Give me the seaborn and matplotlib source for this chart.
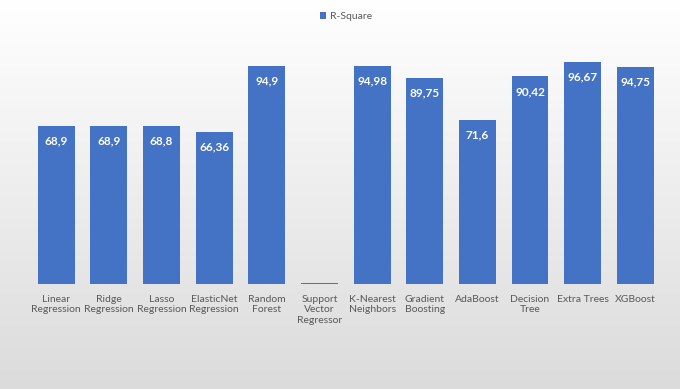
import numpy as np
import pandas as pd
import matplotlib
matplotlib.use("Agg")
import matplotlib.pyplot as plt
import seaborn as sns

models = ["Linear\nRegression", "Ridge\nRegression", "Lasso\nRegression", "ElasticNet\nRegression",
          "Random\nForest", "Support\nVector\nRegressor", "K-Nearest\nNeighbors", "Gradient\nBoosting",
          "AdaBoost", "Decision\nTree", "Extra Trees", "XGBoost"]
r_square = [68.9, 68.9, 68.8, 66.36, 94.9, 0.3, 94.98, 89.75, 71.6, 90.42, 96.67, 94.75]
labels = ["68,9", "68,9", "68,8", "66,36", "94,9", "", "94,98", "89,75", "71,6", "90,42", "96,67", "94,75"]

df = pd.DataFrame({"model": models, "r2": r_square})

sns.set_style("white")
plt.rcParams['font.family'] = ['Lato', 'DejaVu Sans']

fig = plt.figure(figsize=(6.8, 3.89), dpi=100)

# background gradient (white at top, light grey at bottom)
bg = fig.add_axes([0, 0, 1, 1], zorder=0)
grad = np.linspace(1.0, 0.86, 256).reshape(-1, 1)
bg.imshow(np.dstack([grad, grad, grad]).clip(0, 1), aspect="auto", extent=[0, 1, 0, 1])
bg.axis("off")

ax = fig.add_axes([0.044, 0.27, 0.929, 0.59], zorder=1)
ax.patch.set_alpha(0)
sns.barplot(data=df, x="model", y="r2", color="#4472C4", saturation=1, width=0.7, ax=ax, label="R-Square")
ax.set_ylim(0, 100)
ax.set_xlim(-0.5, len(models) - 0.5)

for p, lab in zip(ax.patches, labels):
    p.set_edgecolor("none")
    if lab:
        ax.text(p.get_x() + p.get_width() / 2, p.get_height() - 6.5, lab,
                ha="center", va="center", color="white", fontsize=8.5, fontweight="bold")

ax.set_xlabel("")
ax.set_ylabel("")
ax.set_yticks([])
ax.tick_params(axis="x", length=0, pad=8, labelsize=7.5, labelcolor="#595959")
for s in ax.spines.values():
    s.set_visible(False)

leg = ax.legend(loc="center", bbox_to_anchor=(0.5, 1.165), frameon=False,
                fontsize=7.5, handlelength=0.6, handleheight=0.6, handletextpad=0.4)
for t in leg.get_texts():
    t.set_color("#595959")

fig.savefig("out.png", dpi=100)
